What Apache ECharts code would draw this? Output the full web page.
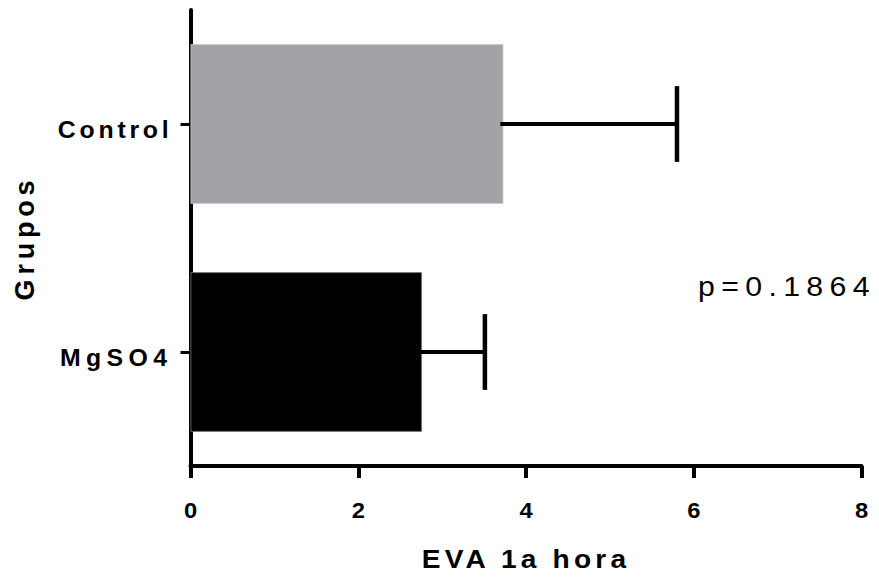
<!DOCTYPE html>
<html>
<head>
<meta charset="utf-8">
<script src="https://cdn.jsdelivr.net/npm/echarts@6/dist/echarts.min.js"></script>
<style>
html,body{margin:0;padding:0;background:#fff;}
#chart{width:879px;height:577px;}
</style>
</head>
<body>
<div id="chart"></div>
<script>
const categories = ['Control', 'MgSO4'];
const means = [3.73, 2.76];
const sds = [2.07, 0.75];
const barColors = ['#a3a2a7', '#000000'];
const xTicks = [0, 2, 4, 6, 8];
const xTitle = 'EVA 1a hora';
const yTitle = 'Grupos';
const pText = 'p=0.1864';

// typographic adjustments: [letter spacing px, horizontal stretch]
const spacingFix = {
  'Control': [3.5, 1.08], 'MgSO4': [5, 1.08],
  'EVA 1a hora': [3.9, 1.08], 'p=0.1864': [5.9, 1.08], 'Grupos': [4.8, 1]
};
const tickFix = [0, 1.08];

const chart = echarts.init(document.getElementById('chart'), null, {renderer: 'svg'});
const font = 'Liberation Sans, Arial, sans-serif';

chart.setOption({
  animation: false,
  grid: {left: 190.5, right: 17.5, top: 10, bottom: 108},
  xAxis: {
    type: 'value', min: xTicks[0], max: xTicks[xTicks.length - 1], interval: 2,
    name: xTitle, nameLocation: 'middle', nameGap: 80,
    nameTextStyle: {fontFamily: font, fontWeight: 'bold', fontSize: 26, color: '#000'},
    axisLine: {show: true, lineStyle: {color: '#000', width: 4}},
    axisTick: {show: true, length: 12, lineStyle: {color: '#000', width: 4}},
    axisLabel: {margin: 33, fontFamily: font, fontWeight: 'bold', fontSize: 22, color: '#000'},
    splitLine: {show: false}
  },
  yAxis: {
    type: 'category', data: categories, inverse: true,
    name: yTitle, nameLocation: 'middle', nameGap: 152, nameRotate: 90,
    nameTextStyle: {fontFamily: font, fontWeight: 'bold', fontSize: 27, color: '#000'},
    axisLine: {show: true, lineStyle: {color: '#000', width: 4}},
    axisTick: {show: true, alignWithLabel: true, length: 10, lineStyle: {color: '#000', width: 3}},
    axisLabel: {
      margin: 18, formatter: '{a|{value}}',
      rich: {a: {padding: [11, 0, 0, 0], fontFamily: font, fontWeight: 'bold', fontSize: 23, color: '#000'}}
    }
  },
  series: [
    {
      type: 'bar', barWidth: '70%',
      data: means.map((v, i) => ({value: v, itemStyle: {color: barColors[i], borderColor: i ? '#777' : '#c8c8cc', borderWidth: 0.8}})),
      z: 1
    },
    {
      type: 'custom',
      data: categories.map((c, i) => [means[i], means[i] + sds[i], i]),
      encode: {x: [0, 1], y: 2},
      z: 3,
      renderItem: function (params, api) {
        const p0 = api.coord([api.value(0), api.value(2)]);
        const p1 = api.coord([api.value(1), api.value(2)]);
        const half = api.size([0, 1])[1] * 0.166;
        return {
          type: 'group',
          children: [
            {type: 'line', shape: {x1: p0[0] - 3, y1: p0[1], x2: p1[0], y2: p1[1]},
             style: {stroke: '#000', lineWidth: 4}},
            {type: 'line', shape: {x1: p1[0], y1: p1[1] - half, x2: p1[0], y2: p1[1] + half},
             style: {stroke: '#000', lineWidth: 4.5}}
          ]
        };
      }
    }
  ],
  graphic: [
    {type: 'text', left: 698, top: 272,
     style: {text: pText, fontFamily: font, fontSize: 28, fill: '#000'}}
  ]
});

function adjustText() {
  document.querySelectorAll('#chart text').forEach(function (t) {
    if (t.getAttribute('data-fixed')) return;
    const s = t.textContent;
    let cfg = spacingFix[s];
    if (!cfg && xTicks.map(String).indexOf(s) >= 0) cfg = tickFix;
    if (!cfg) return;
    t.setAttribute('data-fixed', '1');
    if (cfg[0]) t.setAttribute('letter-spacing', cfg[0] + 'px');
    const k = cfg[1];
    if (k !== 1) {
      const x0 = parseFloat(t.getAttribute('x') || '0');
      const prev = t.getAttribute('transform') || '';
      t.setAttribute('transform', (prev + ' translate(' + x0 + ',0) scale(' + k + ',1) translate(' + (-x0) + ',0)').trim());
    }
  });
}
adjustText();
chart.on('finished', adjustText);
setTimeout(adjustText, 0);
</script>
</body>
</html>
